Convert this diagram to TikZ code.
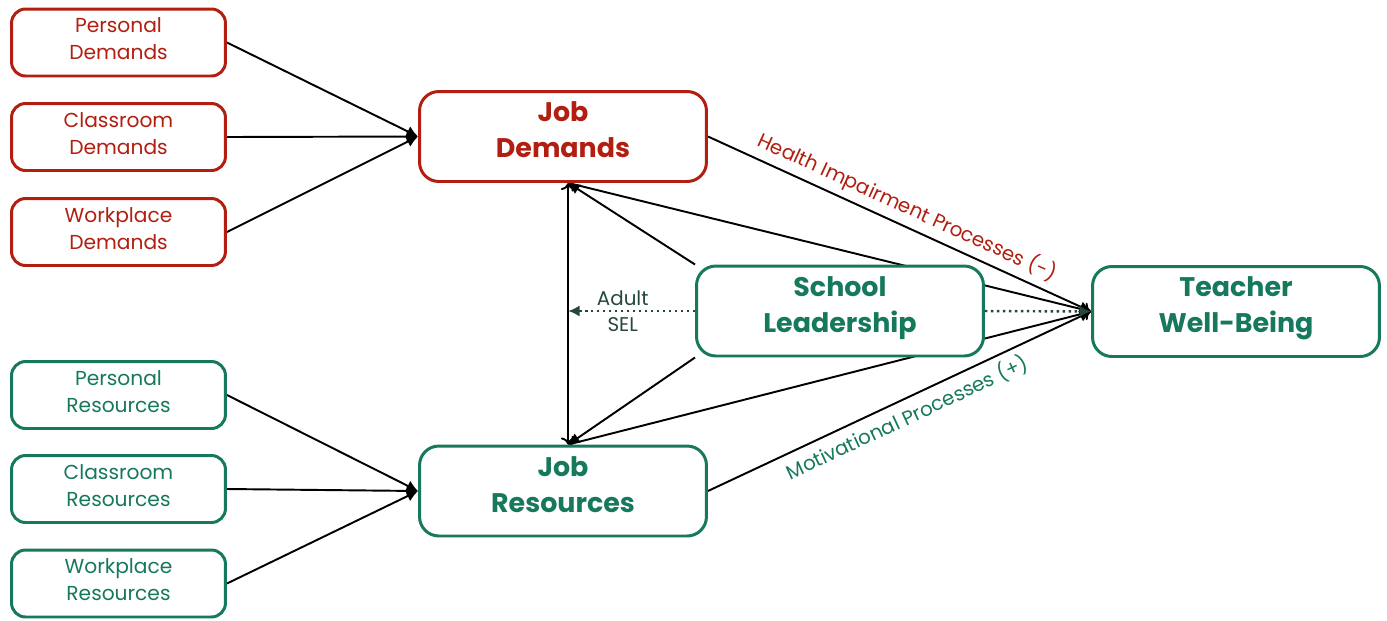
\documentclass[tikz,border=0pt]{standalone}
\usepackage{fontspec}
\setmainfont{Poppins}
\usetikzlibrary{arrows.meta,backgrounds}
\definecolor{demand-red}{RGB}{178,30,16}
\definecolor{resource-green}{RGB}{22,120,92}
\definecolor{sel-dark}{RGB}{36,72,58}

\tikzset{
	box/.style={draw, fill=white, line width=1.7pt, align=center},
	small/.style={box, rounded corners=8pt, minimum width=4.28cm, minimum height=1.34cm, text depth=4.5pt, font=\fontsize{11.5}{15.4}\selectfont},
	big/.style={box, rounded corners=11pt, minimum width=5.74cm, minimum height=1.8cm, text depth=7.5pt, font=\fontsize{15.3}{20.5}\selectfont\bfseries},
	demand/.style={draw=demand-red, text=demand-red},
	resource/.style={draw=resource-green, text=resource-green},
	link/.style={-{Latex[length=6.5pt,width=6.5pt]}, line width=1.1pt},
	sel/.style={-{Latex[length=6.5pt,width=6.5pt]}, line width=1.4pt, dotted, draw=sel-dark},
	proc/.style={sloped, font=\fontsize{11.3}{14}\selectfont}
}

\begin{document}
\begin{tikzpicture}[x=0.02cm,y=-0.02cm]
			\useasboundingbox (0,0) rectangle (1387,620);
			\foreach \n/\y in {Personal/42.5,Classroom/137,Workplace/232}{			% demand boxes
				\node [small,demand] (d-\n) at (118.5,\y) {\n\\Demands};
			}
			\foreach \n/\y in {Personal/395,Classroom/489,Workplace/583.5}{			% resource boxes
				\node [small,resource] (r-\n) at (118.5,\y) {\n\\Resources};
			}
			\node [big,demand] (jd) at (563,136.5) {Job\\Demands};					% job demands
			\node [big,resource] (jr) at (563,491) {Job\\Resources};				% job resources
			\node [big,resource] (sl) at (840,311) {School\\Leadership};				% leadership
			\node [big,resource] (tw) at (1236,311.5) {Teacher\\Well-Being};			% outcome
			\begin{pgfonlayer}{background}
				\foreach \n in {Personal,Classroom,Workplace}{						% inputs
					\draw [link] (d-\n.east) -- (jd.west);
					\draw [link] (r-\n.east) -- (jr.west);
				}
				\draw [link] (jd.east) -- (tw.west) node [proc,midway,above,text=demand-red] {Health Impairment Processes (-)};
				\draw [link] (jr.east) -- (tw.west) node [proc,midway,below,text=resource-green] {Motivational Processes (+)};
				\draw [link,<->] ([xshift=3pt]jd.south) -- ([xshift=3pt]jr.north);	% demands vs resources
				\draw [link,<->] ([xshift=3pt]jd.south) -- (tw.west);				% behind leadership
				\draw [link,<->] ([xshift=3pt]jr.north) -- (tw.west);
				\draw [link] (sl.north west) -- ([xshift=3pt]jd.south);
				\draw [link] (sl.south west) -- ([xshift=3pt]jr.north);
			\end{pgfonlayer}
			\draw [sel] (sl.west) -- ([xshift=3pt]jd.south |- sl.west) node [pos=0.57,text=sel-dark,align=center,font=\fontsize{11.3}{15}\selectfont] {Adult\\SEL};
			\draw [sel] (sl.east) -- (tw.west);
		\end{tikzpicture}
\end{document}
